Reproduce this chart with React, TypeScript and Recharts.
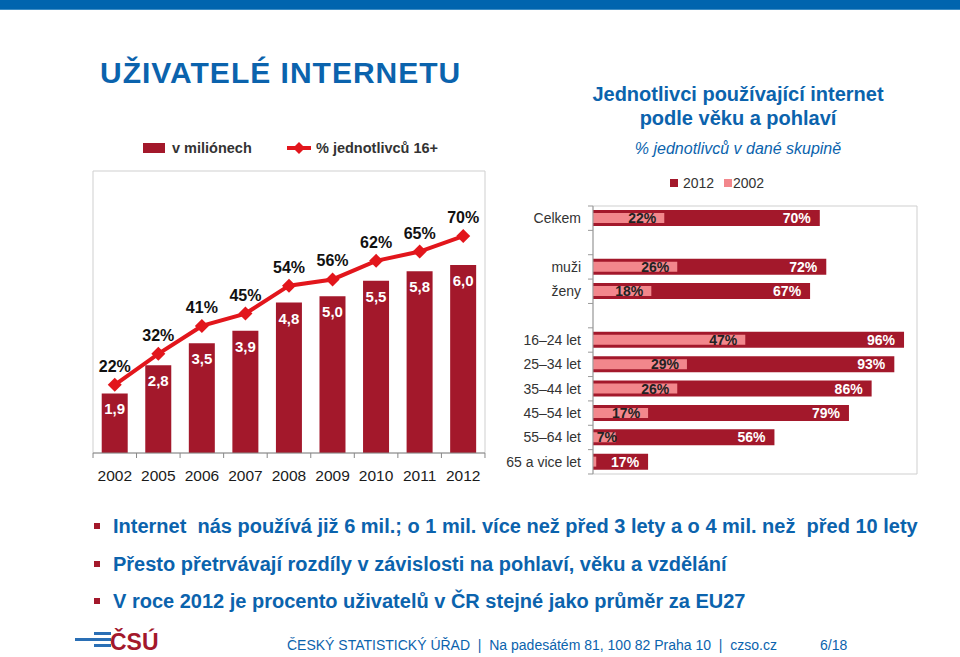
import React from 'react';
import { ComposedChart, BarChart, Bar, Line, XAxis, YAxis, LabelList, ReferenceArea } from 'recharts';

// left chart: internet users over time
const years = ['2002', '2005', '2006', '2007', '2008', '2009', '2010', '2011', '2012'];
const usersMil = [1.9, 2.8, 3.5, 3.9, 4.8, 5.0, 5.5, 5.8, 6.0];
const usersPct = [22, 32, 41, 45, 54, 56, 62, 65, 70];

// right chart: share of individuals by group
const groups = ['Celkem', '', 'muži', 'ženy', ' ', '16–24 let', '25–34 let', '35–44 let', '45–54 let', '55–64 let', '65 a vice let'];
const share2012 = [70, null, 72, 67, null, 96, 93, 86, 79, 56, 17];
const share2002 = [22, null, 26, 18, null, 47, 29, 26, 17, 7, 1];

const bullets = [
  'Internet  nás používá již 6 mil.; o 1 mil. více než před 3 lety a o 4 mil. než  před 10 lety',
  'Přesto přetrvávají rozdíly v závislosti na pohlaví, věku a vzdělání',
  'V roce 2012 je procento uživatelů v ČR stejné jako průměr za EU27',
];

const BLUE = '#0b63ad';
const DARK_RED = '#a3182b';
const LINE_RED = '#e2161c';
const PINK = '#f2878c';
const FONT = '"Liberation Sans", Arial, sans-serif';

const trendData = years.map((year, i) => ({ year, mil: usersMil[i], pct: usersPct[i] }));
const groupData = groups.map((group, i) => ({ group, y2012: share2012[i], y2002: share2002[i] }));

const YearTick = (props: any) => {
  const { x, y, payload, index } = props;
  const half = 21.75;
  return (
    <g>
      {index === 0 && <line x1={x - half} y1={y} x2={x - half} y2={y + 5} stroke="#888" />}
      <line x1={x + half} y1={y} x2={x + half} y2={y + 5} stroke="#888" />
      <text x={x} y={y + 28} textAnchor="middle" fontSize={15.5} fill="#1a1a1a" fontFamily={FONT}>
        {payload.value}
      </text>
    </g>
  );
};

const GroupTick = (props: any) => {
  const { x, y, payload, index } = props;
  const half = 12.18;
  return (
    <g>
      <line x1={x - 5} y1={y - half} x2={x} y2={y - half} stroke="#999" />
      {index === groups.length - 1 && <line x1={x - 5} y1={y + half} x2={x} y2={y + half} stroke="#999" />}
      <text x={x - 12} y={y + 5} textAnchor="end" fontSize={14} fill="#333" fontFamily={FONT}>
        {payload.value}
      </text>
    </g>
  );
};

const Diamond = (props: any) => {
  const { cx, cy } = props;
  if (cx == null || cy == null) return null;
  const r = 7;
  return <polygon points={`${cx},${cy - r} ${cx + r},${cy} ${cx},${cy + r} ${cx - r},${cy}`} fill={LINE_RED} />;
};

const MilLabel = (props: any) => {
  const { x, y, width, value } = props;
  return (
    <text x={x + width / 2} y={y + 21} textAnchor="middle" fontSize={15} fontWeight="bold" fill="#fff" fontFamily={FONT}>
      {Number(value).toFixed(1).replace('.', ',')}
    </text>
  );
};

const PctLabel = (props: any) => {
  const { x, y, value } = props;
  return (
    <text x={x} y={y - 13} textAnchor="middle" fontSize={16} fontWeight="bold" fill="#111" fontFamily={FONT}>
      {value}%
    </text>
  );
};

const Label2012 = (props: any) => {
  const { x, y, width, height, value } = props;
  if (value == null) return null;
  return (
    <text x={x + width - 9} y={y + height / 2 + 5} textAnchor="end" fontSize={14} fontWeight="bold" fill="#fff" fontFamily={FONT}>
      {value}%
    </text>
  );
};

const Label2002 = (props: any) => {
  const { x, y, width, height, value } = props;
  if (value == null || value < 5) return null;
  const right = Math.max(x + width - 8, x + 24);
  return (
    <text x={right} y={y + height / 2 + 5} textAnchor="end" fontSize={14} fontWeight="bold" fill="#222" fontFamily={FONT}>
      {value}%
    </text>
  );
};

const abs = (left: number, top: number, extra: React.CSSProperties = {}): React.CSSProperties => ({
  position: 'absolute',
  left,
  top,
  lineHeight: 1,
  whiteSpace: 'pre',
  fontFamily: FONT,
  ...extra,
});

export default function App() {
  return (
    <div style={{ position: 'absolute', left: 0, top: 0, width: 960, height: 657, background: '#fff', overflow: 'hidden', fontFamily: FONT }}>
      <div style={{ position: 'absolute', left: 0, top: 0, width: 960, height: 9, background: '#0064ae', borderBottom: '1px solid #3d8cc4' }} />

      <div style={abs(100, 58, { fontSize: 30, fontWeight: 'bold', color: BLUE, letterSpacing: 1 })}>UŽIVATELÉ INTERNETU</div>

      <div style={abs(538, 84, { width: 400, textAlign: 'center', fontSize: 20, fontWeight: 'bold', color: BLUE })}>
        Jednotlivci používající internet
      </div>
      <div style={abs(538, 108, { width: 400, textAlign: 'center', fontSize: 20, fontWeight: 'bold', color: BLUE })}>
        podle věku a pohlaví
      </div>
      <div style={abs(538, 141, { width: 400, textAlign: 'center', fontSize: 16, fontStyle: 'italic', color: BLUE })}>
        % jednotlivců v dané skupině
      </div>

      {/* left legend */}
      <div style={{ position: 'absolute', left: 143, top: 143, width: 22, height: 10, background: DARK_RED }} />
      <div style={abs(172, 141, { fontSize: 14.5, fontWeight: 'bold', color: '#333' })}>v miliónech</div>
      <svg style={{ position: 'absolute', left: 285, top: 140 }} width={28} height={16}>
        <line x1={2} y1={8} x2={26} y2={8} stroke={LINE_RED} strokeWidth={4} />
        <polygon points="14,2 20,8 14,14 8,8" fill={LINE_RED} />
      </svg>
      <div style={abs(316, 141, { fontSize: 14.5, fontWeight: 'bold', color: '#333' })}>% jednotlivců 16+</div>

      <div style={{ position: 'absolute', left: 83, top: 150 }}>
        <ComposedChart width={420} height={340} data={trendData} margin={{ top: 21, right: 18, bottom: 7, left: 10 }} barCategoryGap="20%">
          <XAxis dataKey="year" height={30} interval={0} tickLine={false} tickSize={0} tickMargin={0} axisLine={{ stroke: '#888' }} tick={YearTick} />
          <YAxis yAxisId="mil" hide domain={[0, 9]} />
          <YAxis yAxisId="pct" hide orientation="right" domain={[0, 91]} />
          <ReferenceArea yAxisId="mil" y1={0} y2={9} fill="none" stroke="#cfcfcf" ifOverflow="visible" />
          <Bar yAxisId="mil" dataKey="mil" fill={DARK_RED} isAnimationActive={false}>
            <LabelList dataKey="mil" content={MilLabel} />
          </Bar>
          <Line yAxisId="pct" dataKey="pct" stroke={LINE_RED} strokeWidth={4} dot={Diamond} activeDot={false} isAnimationActive={false}>
            <LabelList dataKey="pct" content={PctLabel} />
          </Line>
        </ComposedChart>
      </div>

      {/* right legend */}
      <div style={{ position: 'absolute', left: 670, top: 179, width: 8, height: 8, background: DARK_RED }} />
      <div style={abs(683, 176, { fontSize: 14, color: '#333' })}>2012</div>
      <div style={{ position: 'absolute', left: 724, top: 179, width: 8, height: 8, background: PINK }} />
      <div style={abs(733, 176, { fontSize: 14, color: '#333' })}>2002</div>

      <div style={{ position: 'absolute', left: 500, top: 190 }}>
        <BarChart width={430} height={294} data={groupData} layout="vertical" margin={{ top: 16, right: 13, bottom: 10, left: 0 }}>
          <XAxis type="number" domain={[0, 100]} hide />
          <YAxis
            yAxisId="a"
            type="category"
            dataKey="group"
            width={93}
            interval={0}
            tickLine={false}
            tickSize={0}
            tickMargin={0}
            axisLine={{ stroke: '#999' }}
            tick={GroupTick}
          />
          <YAxis yAxisId="b" type="category" dataKey="group" hide />
          <ReferenceArea yAxisId="a" x1={0} x2={100} fill="none" stroke="#cfcfcf" ifOverflow="visible" />
          <Bar yAxisId="a" dataKey="y2012" barSize={16} fill={DARK_RED} isAnimationActive={false}>
            <LabelList dataKey="y2012" content={Label2012} />
          </Bar>
          <Bar yAxisId="b" dataKey="y2002" barSize={10} fill={PINK} isAnimationActive={false}>
            <LabelList dataKey="y2002" content={Label2002} />
          </Bar>
        </BarChart>
      </div>

      {bullets.map((text, i) => (
        <React.Fragment key={i}>
          <div style={{ position: 'absolute', left: 94, top: 523 + i * 37.5, width: 6, height: 6, background: DARK_RED }} />
          <div style={abs(113, 516 + i * 37.5, { fontSize: 20, fontWeight: 'bold', color: BLUE })}>{text}</div>
        </React.Fragment>
      ))}

      {/* footer */}
      <svg style={{ position: 'absolute', left: 72, top: 626 }} width={90} height={28}>
        <rect x={3} y={12} width={36} height={3} fill="#2a6fb5" />
        <rect x={22} y={6} width={17} height={3} fill="#2a6fb5" />
        <rect x={22} y={18} width={17} height={3} fill="#2a6fb5" />
        <text x={38} y={24} fontSize={23} fontWeight="bold" fill={DARK_RED} fontFamily={FONT}>ČSÚ</text>
      </svg>
      <div style={abs(287, 638, { fontSize: 14, color: BLUE })}>ČESKÝ STATISTICKÝ ÚŘAD  |  Na padesátém 81, 100 82 Praha 10  |  czso.cz</div>
      <div style={abs(820, 638, { fontSize: 14, color: BLUE })}>6/18</div>
    </div>
  );
}
